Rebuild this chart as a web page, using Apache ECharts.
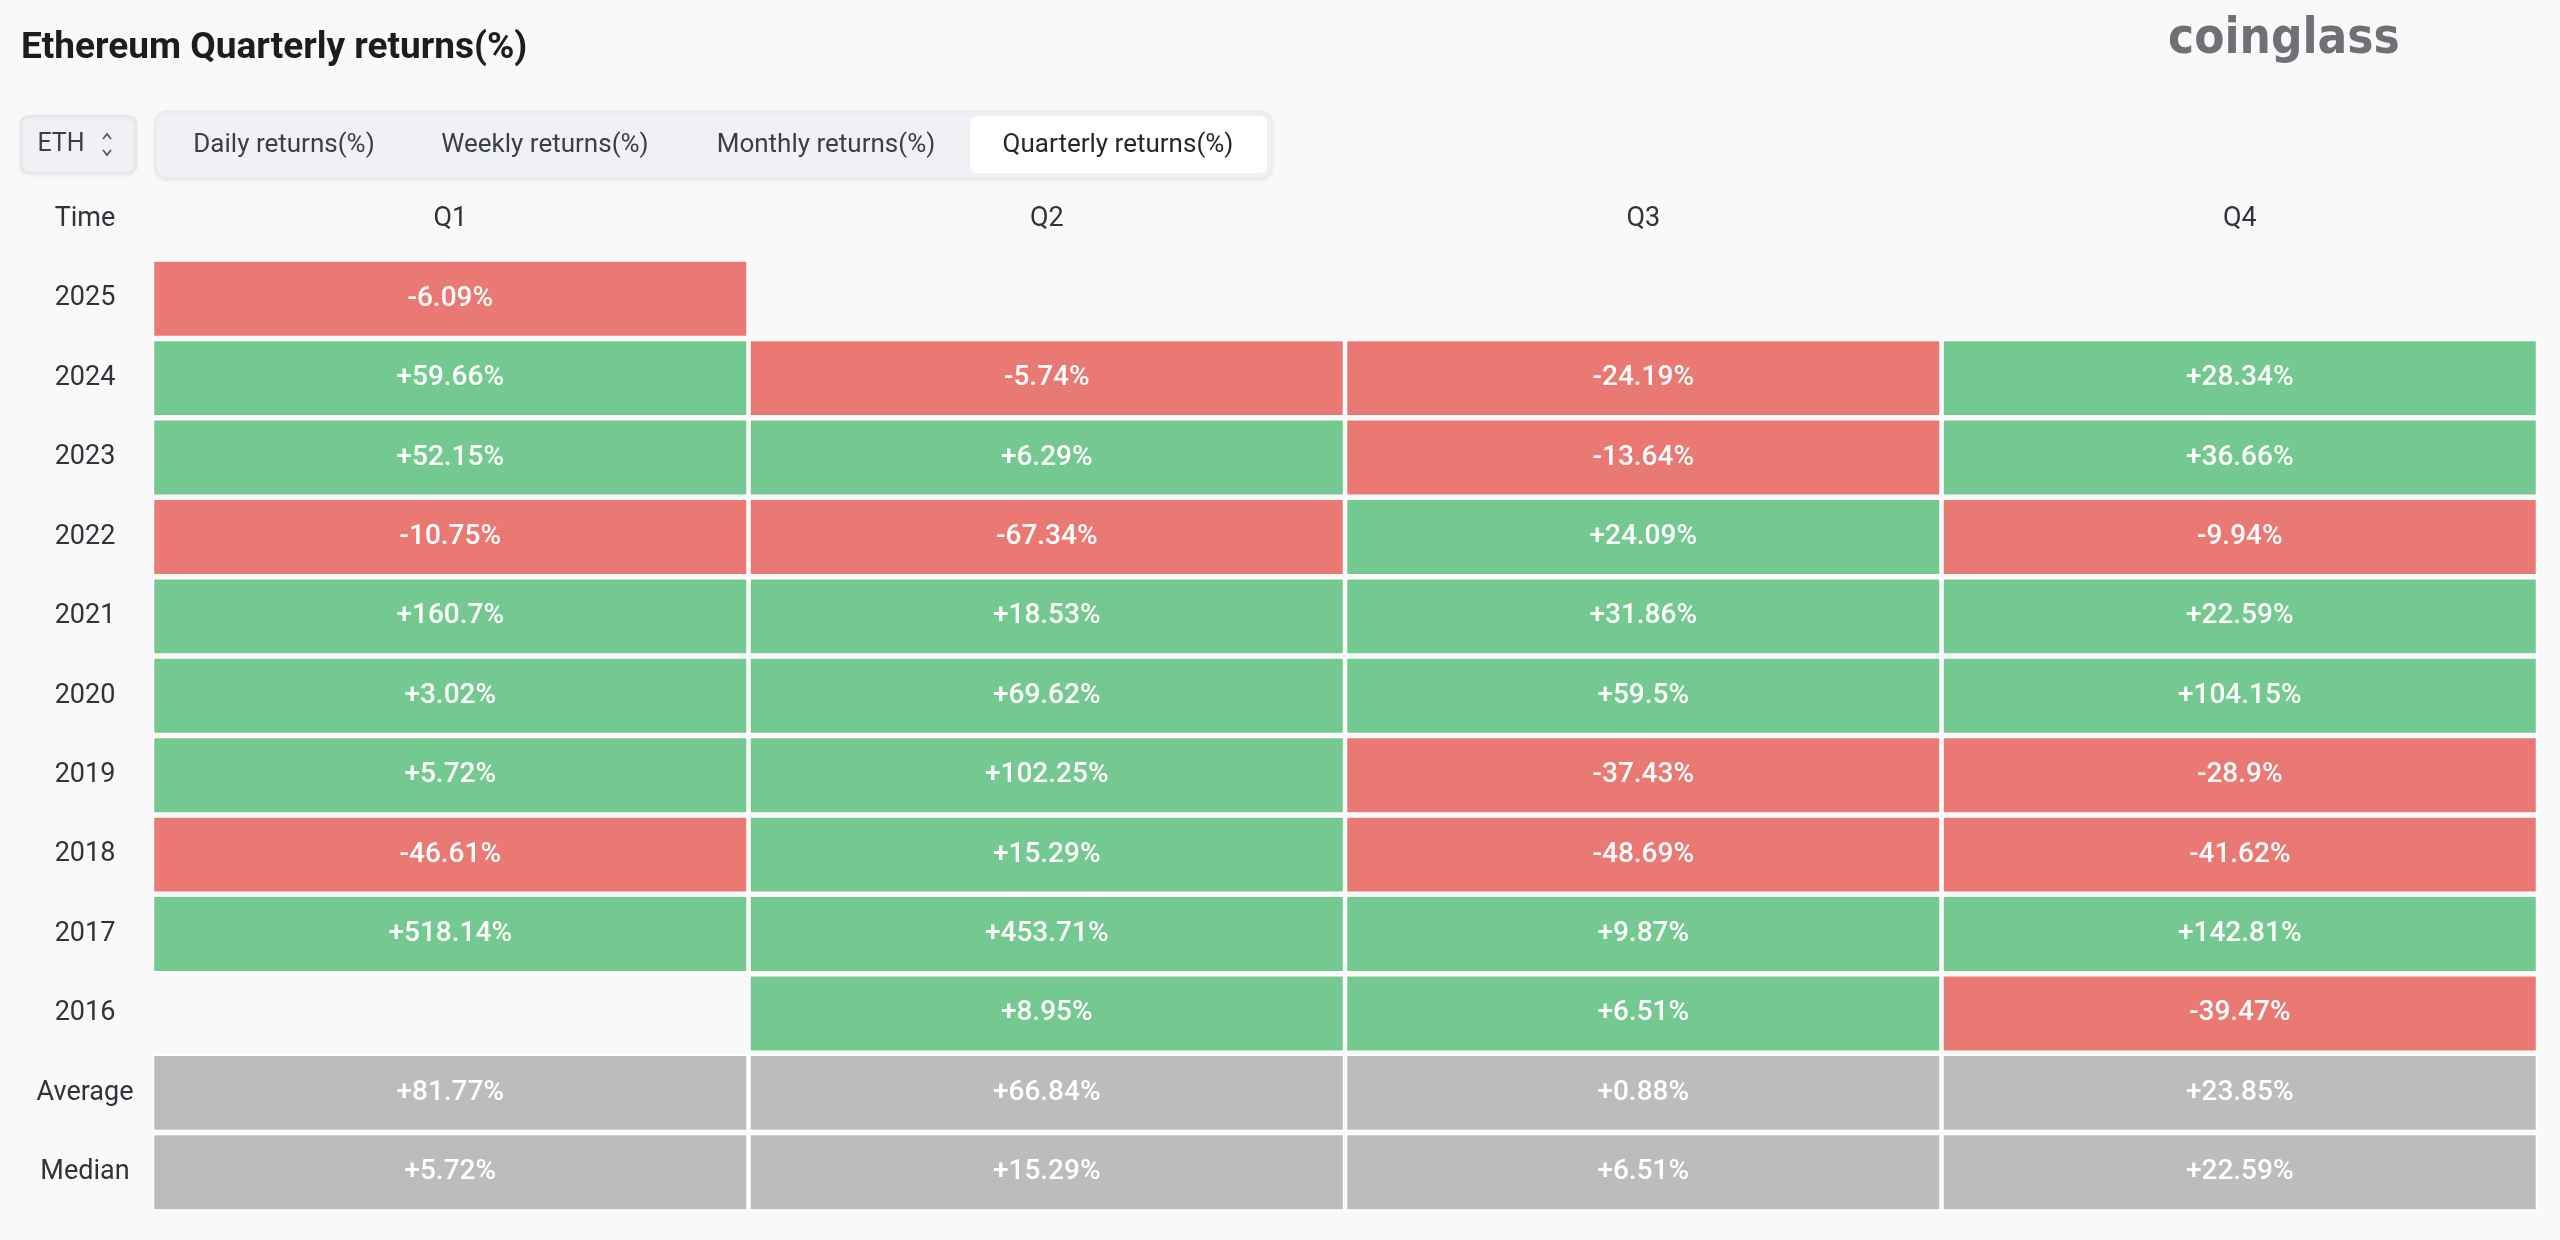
<!DOCTYPE html>
<html>
<head>
<meta charset="utf-8">
<script src="https://cdn.jsdelivr.net/npm/echarts@6/dist/echarts.min.js"></script>
<style>
html,body{margin:0;padding:0;background:#f9f9f9;}
#c{width:2560px;height:1240px;}
</style>
</head>
<body>
<div id="c"></div>
<script>
const quarters = ['Q1', 'Q2', 'Q3', 'Q4'];
const rowLabels = ['2025', '2024', '2023', '2022', '2021', '2020', '2019', '2018', '2017', '2016', 'Average', 'Median'];
const q1 = [-6.09, 59.66, 52.15, -10.75, 160.7, 3.02, 5.72, -46.61, 518.14, null, 81.77, 5.72];
const q2 = [null, -5.74, 6.29, -67.34, 18.53, 69.62, 102.25, 15.29, 453.71, 8.95, 66.84, 15.29];
const q3 = [null, -24.19, -13.64, 24.09, 31.86, 59.5, -37.43, -48.69, 9.87, 6.51, 0.88, 6.51];
const q4 = [null, 28.34, 36.66, -9.94, 22.59, 104.15, -28.9, -41.62, 142.81, -39.47, 23.85, 22.59];
const tabs = ['Daily returns(%)', 'Weekly returns(%)', 'Monthly returns(%)', 'Quarterly returns(%)'];

const cols = [q1, q2, q3, q4];
const RED = '#ea7873', GREEN = '#74c991', GREY = '#bcbcbc';
const summaryRows = ['Average', 'Median'];
const data = [];
cols.forEach((arr, ci) => {
  arr.forEach((v, ri) => {
    if (v === null || v === undefined) return;
    data.push([ci, ri, v]);
  });
});
function fmt(v) { return (v >= 0 ? '+' : '') + v + '%'; }

const chart = echarts.init(document.getElementById('c'));
const labelColor = '#2f343a';
const tabCenters = [284, 545, 826, 1118];

const graphic = [
  { type: 'text', left: 21, top: 30, style: { text: 'Ethereum Quarterly returns(%)', font: 'bold 37px "Roboto", sans-serif', fill: '#1c1d20' } },
  { type: 'text', left: 2168, top: 16, style: { text: 'coinglass', font: 'bold 49px "DejaVu Sans Condensed", sans-serif', fill: '#6d7075' } },
  { type: 'rect', shape: { x: 21, y: 116, width: 115, height: 57, r: 8 }, style: { fill: '#f0f1f5', stroke: '#e2e3e7', lineWidth: 1.5, shadowBlur: 4, shadowColor: 'rgba(0,0,0,0.08)', shadowOffsetY: 1 } },
  { type: 'text', x: 61, y: 145, style: { text: 'ETH', font: '25px "Roboto", sans-serif', fill: '#3b3f45', align: 'center', verticalAlign: 'middle' } },
  { type: 'polyline', shape: { points: [[103, 139], [107, 134], [111, 139]] }, style: { stroke: '#55595f', lineWidth: 1.8, fill: null } },
  { type: 'polyline', shape: { points: [[103, 150], [107, 155], [111, 150]] }, style: { stroke: '#55595f', lineWidth: 1.8, fill: null } },
  { type: 'rect', shape: { x: 155, y: 111, width: 1117, height: 67, r: 12 }, style: { fill: '#f0f1f5', stroke: '#e6e7eb', lineWidth: 1, shadowBlur: 4, shadowColor: 'rgba(0,0,0,0.08)', shadowOffsetY: 2 } },
  { type: 'rect', shape: { x: 970, y: 116, width: 297, height: 57, r: 8 }, style: { fill: '#ffffff' } },
  { type: 'text', x: 85, y: 219, style: { text: 'Time', font: '27px "Roboto", sans-serif', fill: labelColor, align: 'center', verticalAlign: 'middle' } }
];
tabs.forEach((t, i) => {
  graphic.push({ type: 'text', x: tabCenters[i], y: 145, style: { text: t, font: '26px "Roboto", sans-serif', fill: i === 3 ? '#25282d' : '#3b3f45', align: 'center', verticalAlign: 'middle' } });
});

chart.setOption({
  backgroundColor: '#f9f9f9',
  animation: false,
  graphic: graphic,
  grid: { left: 152, right: 22, top: 259, bottom: 28 },
  xAxis: {
    type: 'category', data: quarters, position: 'top',
    axisLine: { show: false }, axisTick: { show: false }, splitLine: { show: false },
    axisLabel: { margin: 40, verticalAlign: 'middle', fontSize: 27, fontFamily: 'Roboto', color: labelColor }
  },
  yAxis: {
    type: 'category', data: rowLabels, inverse: true,
    axisLine: { show: false }, axisTick: { show: false }, splitLine: { show: false },
    axisLabel: { margin: 67, align: 'center', fontSize: 27, fontFamily: 'Roboto', color: labelColor }
  },
  series: [{
    type: 'custom',
    data: data,
    encode: { x: 0, y: 1 },
    renderItem: function (params, api) {
      const ci = api.value(0), ri = api.value(1), v = api.value(2);
      const c = api.coord([ci, ri]);
      const s = api.size([1, 1]);
      const isSummary = summaryRows.indexOf(rowLabels[ri]) >= 0;
      const color = isSummary ? GREY : (v >= 0 ? GREEN : RED);
      return {
        type: 'rect',
        shape: { x: c[0] - s[0] / 2 + 1.5, y: c[1] - s[1] / 2 + 2, width: s[0] - 3, height: s[1] - 4 },
        style: { fill: color, stroke: '#ffffff', lineWidth: 1.5 },
        textContent: { style: { text: fmt(v), fill: '#ffffff', font: '500 28px "Roboto", sans-serif' } },
        textConfig: { position: 'inside' }
      };
    }
  }]
});
</script>
</body>
</html>
